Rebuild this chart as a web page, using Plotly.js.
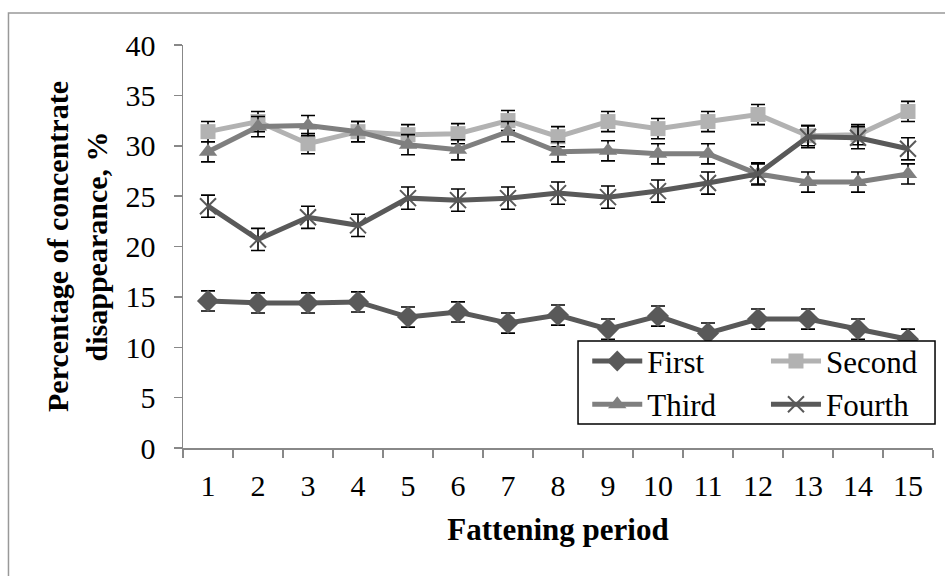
<!DOCTYPE html>
<html>
<head>
<meta charset="utf-8">
<script src="https://cdn.plot.ly/plotly-3.0.1.min.js"></script>
<style>html,body{margin:0;padding:0;background:#fff;}#chart{width:945px;height:576px;}</style>
</head>
<body>
<div id="chart"></div>
<script>
const periods = ["1","2","3","4","5","6","7","8","9","10","11","12","13","14","15"];
const first  = [14.6, 14.4, 14.4, 14.5, 13.0, 13.5, 12.4, 13.2, 11.8, 13.1, 11.4, 12.8, 12.8, 11.8, 10.8];
const second = [31.4, 32.4, 30.2, 31.4, 31.1, 31.2, 32.5, 30.9, 32.4, 31.7, 32.4, 33.1, 31.0, 31.1, 33.4];
const third  = [29.4, 31.9, 32.0, 31.4, 30.1, 29.6, 31.4, 29.4, 29.5, 29.2, 29.2, 27.2, 26.4, 26.4, 27.2];
const fourth = [24.0, 20.7, 22.9, 22.1, 24.8, 24.6, 24.8, 25.3, 24.9, 25.5, 26.3, 27.2, 30.9, 30.8, 29.7];
const errFirst  = [1.0, 1.0, 1.0, 1.0, 1.0, 1.0, 1.0, 1.0, 1.0, 1.0, 1.0, 1.0, 1.0, 1.0, 1.0];
const errSecond = [1.0, 1.0, 1.0, 1.0, 1.0, 1.0, 1.0, 1.0, 1.0, 1.0, 1.0, 1.0, 1.0, 1.0, 1.0];
const errThird  = [1.0, 1.0, 1.0, 1.0, 1.0, 1.0, 1.0, 1.0, 1.0, 1.0, 1.0, 1.0, 1.0, 1.0, 1.0];
const errFourth = [1.1, 1.1, 1.1, 1.1, 1.1, 1.1, 1.1, 1.1, 1.1, 1.1, 1.1, 1.1, 1.1, 1.1, 1.1];
const names = ["First", "Second", "Third", "Fourth"];

const FONT = "Liberation Serif";
function err(a){ return {type:"data", array:a, visible:true, color:"#000", thickness:1.6, width:7}; }

const traces = [
  {x:periods, y:first, name:names[0], legend:"legend", mode:"lines+markers", type:"scatter",
   line:{color:"#595959", width:5}, marker:{symbol:"diamond", size:17, color:"#595959"}, error_y:err(errFirst)},
  {x:periods, y:second, name:names[1], legend:"legend2", mode:"lines+markers", type:"scatter",
   line:{color:"#b2b2b2", width:5}, marker:{symbol:"square", size:15, color:"#b2b2b2"}, error_y:err(errSecond)},
  {x:periods, y:third, name:names[2], legend:"legend", mode:"lines+markers", type:"scatter",
   line:{color:"#7f7f7f", width:5}, marker:{symbol:"triangle-up", size:16, color:"#7f7f7f"}, error_y:err(errThird)},
  {x:periods, y:fourth, name:names[3], legend:"legend2", mode:"lines+markers", type:"scatter",
   line:{color:"#595959", width:5}, marker:{symbol:"x-thin-open", size:16, color:"#595959", line:{width:2, color:"#595959"}}, error_y:err(errFourth)}
];

const legendBase = {orientation:"v", xanchor:"left", y:0.282, yanchor:"top",
  bgcolor:"rgba(0,0,0,0)", borderwidth:0, traceorder:"normal",
  font:{family:FONT, size:31, color:"#000"}, tracegroupgap:0, itemwidth:50};

const layout = {
  width:945, height:576,
  margin:{l:183, r:12, t:45, b:128, autoexpand:false},
  paper_bgcolor:"#fff", plot_bgcolor:"#fff",
  font:{family:FONT, size:30, color:"#000"},
  showlegend:true,
  xaxis:{type:"category", range:[-0.5,14.5], tickson:"boundaries", ticks:"outside", ticklen:8, tickwidth:1.5, tickcolor:"#888",
    showline:true, linecolor:"#888", linewidth:1.5, showgrid:false, zeroline:false,
    tickfont:{family:FONT, size:30}, ticklabelstandoff:10, automargin:false,
    title:{text:"<b>Fattening period</b>", font:{family:FONT, size:31}, standoff:18}},
  yaxis:{range:[0,40], dtick:5, ticks:"outside", ticklen:8, tickwidth:1.5, tickcolor:"#888",
    showline:true, linecolor:"#888", linewidth:1.5, showgrid:false, zeroline:false, automargin:false,
    tickfont:{family:FONT, size:30}, ticklabelstandoff:12,
    title:{text:"<b>Percentage of concentrate<br>disappearance, %</b>", font:{family:FONT, size:30}, standoff:9}},
  legend: Object.assign({}, legendBase, {x:0.539}),
  legend2: Object.assign({}, legendBase, {x:0.7773}),
  shapes:[
    {type:"rect", xref:"paper", yref:"paper", x0:-0.2327, x1:1.2, y0:-0.4, y1:1.0794,
     line:{color:"#999", width:1.5}, fillcolor:"rgba(0,0,0,0)", layer:"below"},
    {type:"rect", xref:"paper", yref:"paper", x0:0.5267, x1:1.0027, y0:0.0596, y1:0.2655,
     line:{color:"#000", width:1.5}, fillcolor:"#fff", layer:"above"}
  ]
};

Plotly.newPlot("chart", traces, layout, {displayModeBar:false, staticPlot:true});
</script>
</body>
</html>
